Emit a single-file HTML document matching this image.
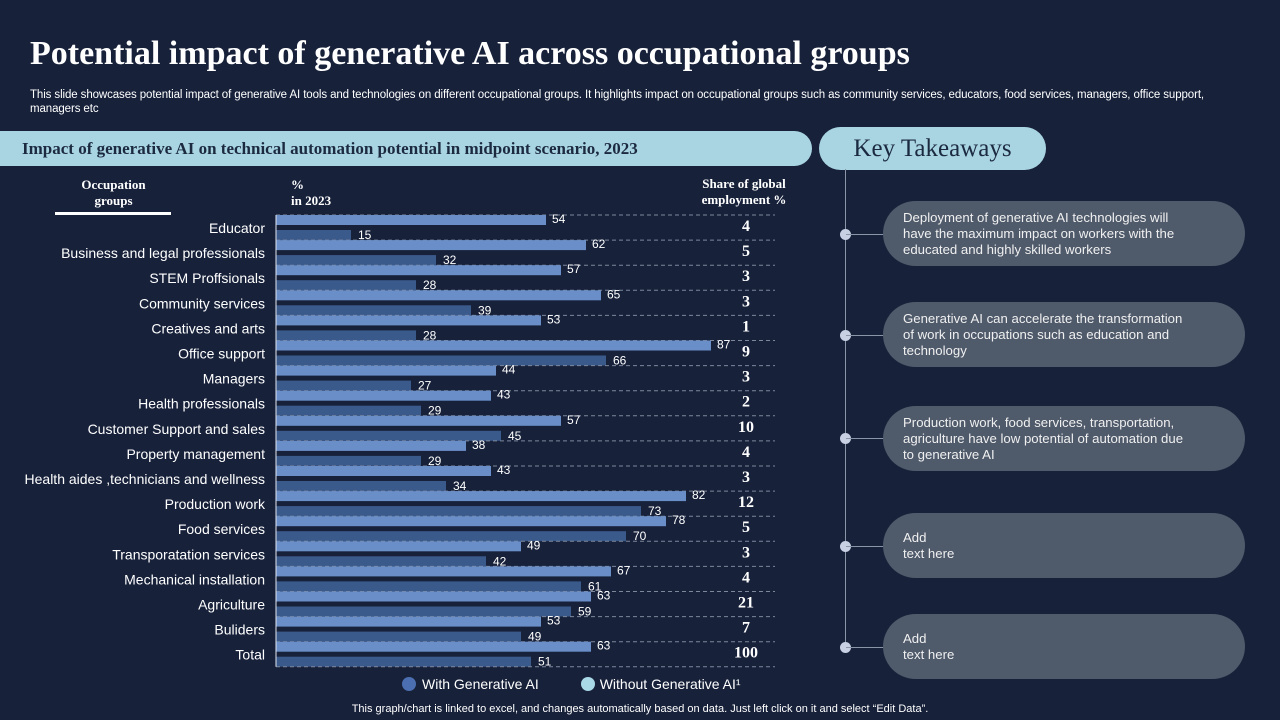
<!DOCTYPE html>
<html><head><meta charset="utf-8"><style>
body{margin:0;width:1280px;height:720px;background:#17213a;overflow:hidden;position:relative;font-family:"Liberation Sans",sans-serif;color:#fff}
.a{position:absolute}
.serif{font-family:"Liberation Serif",serif}
.pill{position:absolute;left:883px;width:362px;height:65px;border-radius:33px;background:#4f5a6b;box-sizing:border-box;padding-left:20px;display:flex;align-items:center;font-size:13.2px;line-height:16px;color:#f0f0f0}
.dot{position:absolute;left:840px;width:11px;height:11px;border-radius:50%;background:#c8d0e4}
.conn{position:absolute;left:846px;width:38px;height:1px;background:#8b95a8}
</style></head><body>
<div class="a serif" style="left:30px;top:35px;font-size:34px;font-weight:bold">Potential impact of generative AI across occupational groups</div>
<div class="a" style="left:30px;top:88px;width:1215px;font-size:11.5px;line-height:14px;letter-spacing:-0.1px">This slide showcases potential impact of generative AI tools and technologies on different occupational groups. It highlights impact on occupational groups such as community services, educators, food services, managers, office support, managers etc</div>
<div class="a serif" style="left:0;top:131px;width:812px;height:35px;background:#a9d5e3;border-radius:0 18px 18px 0;color:#1c2a40;font-weight:bold;font-size:17px;line-height:35px;box-sizing:border-box;padding-left:22px">Impact of generative AI on technical automation potential in midpoint scenario, 2023</div>
<div class="a serif" style="left:55px;top:177px;width:117px;text-align:center;font-size:13px;font-weight:bold;line-height:16px">Occupation<br>groups</div>
<div class="a" style="left:55px;top:212px;width:116px;height:3px;background:#fff"></div>
<div class="a serif" style="left:291px;top:177px;font-size:13px;font-weight:bold;line-height:16px">%<br>in 2023</div>
<div class="a serif" style="left:689px;top:176px;width:110px;text-align:center;font-size:13px;font-weight:bold;line-height:16px">Share of global<br>employment %</div>
<svg class="a" style="left:0;top:0" width="820" height="720" id="chart"></svg>
<div class="a" style="left:402px;top:676px;font-size:14px;display:flex;align-items:center">
<span style="width:14px;height:14px;border-radius:50%;background:#4b6fb0;display:inline-block;margin-right:6px"></span><span>With Generative AI</span>
<span style="width:14px;height:14px;border-radius:50%;background:#a9d8e6;display:inline-block;margin:0 5px 0 42px"></span><span>Without Generative AI¹</span></div>
<div class="a" style="left:0;width:1280px;text-align:center;top:703px;font-size:11px">This graph/chart is linked to excel, and changes automatically based on data. Just left click on it and select “Edit Data”.</div>
<div class="a serif" style="left:819px;top:127px;width:227px;height:43px;background:#a9d5e3;border-radius:22px;color:#1c2a40;font-size:25px;line-height:43px;text-align:center">Key Takeaways</div>
<div class="a" style="left:845px;top:169px;width:1px;height:480px;background:#8b95a8"></div>
<div class="dot" style="top:229px"></div><div class="conn" style="top:234px"></div>
<div class="dot" style="top:330px"></div><div class="conn" style="top:335px"></div>
<div class="dot" style="top:433px"></div><div class="conn" style="top:438px"></div>
<div class="dot" style="top:541px"></div><div class="conn" style="top:546px"></div>
<div class="dot" style="top:642px"></div><div class="conn" style="top:647px"></div>
<div class="pill" style="top:201px">Deployment of generative AI technologies will<br>have the maximum impact on workers with the<br>educated and highly skilled workers</div>
<div class="pill" style="top:302px">Generative AI can accelerate the transformation<br>of work in occupations such as education and<br>technology</div>
<div class="pill" style="top:406px">Production work, food services, transportation,<br>agriculture have low potential of automation due<br>to generative AI</div>
<div class="pill" style="top:513px">Add<br>text here</div>
<div class="pill" style="top:614px">Add<br>text here</div>
<script>
const categories=["Educator","Business and legal professionals","STEM Proffsionals","Community services","Creatives and arts","Office support","Managers","Health professionals","Customer Support and sales","Property management","Health aides ,technicians and wellness","Production work","Food services","Transporatation services","Mechanical installation","Agriculture","Buliders","Total"];
const withAI=[54,62,57,65,53,87,44,43,57,38,43,82,78,49,67,63,53,63];
const withoutAI=[15,32,28,39,28,66,27,29,45,29,34,73,70,42,61,59,49,51];
const share=[4,5,3,3,1,9,3,2,10,4,3,12,5,3,4,21,7,100];
const svg=document.getElementById('chart');const NS='http://www.w3.org/2000/svg';
const x0=276,top0=215,pitch=25.1;
const xs=v=>x0+v*5.0;
const ys=i=>top0+i*pitch;
function el(t,a){const e=document.createElementNS(NS,t);for(const k in a)e.setAttribute(k,a[k]);svg.appendChild(e);return e;}
categories.forEach((c,i)=>{
 const y=ys(i);
 const dl=el('line',{x1:x0,x2:775,y1:y,y2:y,stroke:'#7d879a','stroke-dasharray':'4,3','stroke-width':1});
 
 
 const b1=el('rect',{x:x0,y:y,width:xs(withAI[i])-x0,height:10,fill:'#6a8fc8'});
 
 
 const b2=el('rect',{x:x0,y:y+15,width:xs(withoutAI[i])-x0,height:10,fill:'#3b5a8c'});
 
 
 const t1=el('text',{x:xs(withAI[i])+6,y:y+8,fill:'#fff','font-size':12,'font-family':'Liberation Sans'});t1.textContent=withAI[i];
 
 
 const t2=el('text',{x:xs(withoutAI[i])+7,y:y+24,fill:'#fff','font-size':12,'font-family':'Liberation Sans'});t2.textContent=withoutAI[i];
 
 
 const tl=el('text',{x:265,y:y+18,fill:'#fff','font-size':14,'text-anchor':'end','font-family':'Liberation Sans'});tl.textContent=c;
 
 
 const ts=el('text',{x:746,y:y+16,fill:'#fff','font-size':16,'font-weight':'bold','text-anchor':'middle','font-family':'Liberation Serif'});ts.textContent=share[i];
 
 
});
const last=ys(categories.length);
const dl=el('line',{x1:x0,x2:775,y1:last,y2:last,stroke:'#7d879a','stroke-dasharray':'4,3'});


const ax=el('line',{x1:x0,x2:x0,y1:top0,y2:last,stroke:'#e0e6f0','stroke-width':1});


</script>
</body></html>
